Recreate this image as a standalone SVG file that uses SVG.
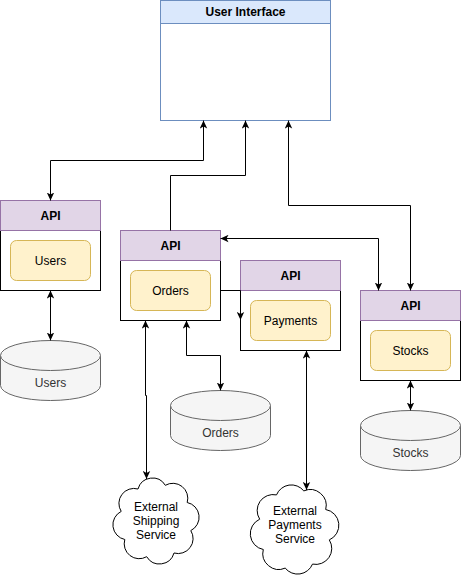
<svg xmlns="http://www.w3.org/2000/svg" width="461" height="581" viewBox="0 0 461 581">
<style>
text{font-family:"Liberation Sans",Arial,sans-serif;font-size:12px;text-anchor:middle;fill:#000}
.b{font-weight:bold}
.api{fill:#e1d5e7;stroke:#9673a6;stroke-width:1}
.body{fill:#fff;stroke:#000;stroke-width:1}
.inner{fill:#fff2cc;stroke:#d6b656;stroke-width:1}
.db{fill:#f5f5f5;stroke:#666;stroke-width:1}
.dbt{fill:#333}
.cloud{fill:#fff;stroke:#000;stroke-width:1}
.e{fill:none;stroke:#000;stroke-width:1}
</style>
<defs>
<marker id="a" viewBox="0 0 8 8" refX="8" refY="4" markerWidth="8" markerHeight="8" markerUnits="userSpaceOnUse" orient="auto-start-reverse">
<path d="M0,0.3 L8,4 L0,7.7 L2,4 Z" fill="#000"/>
</marker>
</defs>

<g id="ui">
<rect x="160.5" y="23.5" width="170" height="97" fill="#fff" stroke="#6c8ebf"/>
<rect x="160.5" y="0.5" width="170" height="23" fill="#dae8fc" stroke="#6c8ebf"/>
<text class="b" x="245.5" y="16">User Interface</text>
</g>

<g id="users-api">
<rect class="body" x="0.5" y="230.5" width="100" height="60"/>
<rect class="api" x="0.5" y="200.5" width="100" height="30"/>
<text class="b" x="50.5" y="219.5">API</text>
<rect class="inner" x="10.5" y="240.5" width="80" height="40" rx="6"/>
<text x="50.5" y="264.5">Users</text>
</g>

<g id="orders-api">
<rect class="body" x="120.5" y="260.5" width="100" height="60"/>
<rect class="api" x="120.5" y="230.5" width="100" height="30"/>
<text class="b" x="170.5" y="249.5">API</text>
<rect class="inner" x="130.5" y="270.5" width="80" height="40" rx="6"/>
<text x="170.5" y="294.5">Orders</text>
</g>

<g id="payments-api">
<rect class="body" x="240.5" y="290.5" width="100" height="60"/>
<rect class="api" x="240.5" y="260.5" width="100" height="30"/>
<text class="b" x="290.5" y="279.5">API</text>
<rect class="inner" x="250.5" y="300.5" width="80" height="40" rx="6"/>
<text x="290.5" y="324.5">Payments</text>
</g>

<g id="stocks-api">
<rect class="body" x="360.5" y="320.5" width="100" height="60"/>
<rect class="api" x="360.5" y="290.5" width="100" height="30"/>
<text class="b" x="410.5" y="309.5">API</text>
<rect class="inner" x="370.5" y="330.5" width="80" height="40" rx="6"/>
<text x="410.5" y="354.5">Stocks</text>
</g>

<g id="users-db">
<path class="db" d="M0.5,355.5 A50,15 0 0 1 100.5,355.5 V385.5 A50,15 0 0 1 0.5,385.5 Z"/>
<path class="db" fill="none" d="M0.5,355.5 A50,15 0 0 0 100.5,355.5"/>
<text class="dbt" x="50.5" y="387">Users</text>
</g>

<g id="orders-db">
<path class="db" d="M170.5,405.5 A50,15 0 0 1 270.5,405.5 V435.5 A50,15 0 0 1 170.5,435.5 Z"/>
<path class="db" fill="none" d="M170.5,405.5 A50,15 0 0 0 270.5,405.5"/>
<text class="dbt" x="220.5" y="437">Orders</text>
</g>

<g id="stocks-db">
<path class="db" d="M360.5,425.5 A50,15 0 0 1 460.5,425.5 V455.5 A50,15 0 0 1 360.5,455.5 Z"/>
<path class="db" fill="none" d="M360.5,425.5 A50,15 0 0 0 460.5,425.5"/>
<text class="dbt" x="410.5" y="457">Stocks</text>
</g>

<g id="shipping-cloud">
<path class="cloud" d="M165.3,485.3 A15,15 0 0 1 187.2,502.5 A15,15 0 0 1 190.8,530.6 A15,15 0 0 1 174,553 A15,15 0 0 1 146.7,556.7 A15,15 0 0 1 124.8,539.5 A15,15 0 0 1 121.2,511.4 A15,15 0 0 1 138,489 A15,15 0 0 1 165.3,485.3 Z"/>
<text x="156" y="511">External</text>
<text x="156" y="525">Shipping</text>
<text x="156" y="539">Service</text>
</g>

<g id="payments-cloud">
<path class="cloud" d="M303.8,490.9 A16,16 0 0 1 325.7,509.5 A16,16 0 0 1 329.3,539.9 A16,16 0 0 1 312.5,564.1 A16,16 0 0 1 285.2,568.1 A16,16 0 0 1 263.3,549.5 A16,16 0 0 1 259.7,519.2 A16,16 0 0 1 276.5,494.9 A16,16 0 0 1 303.8,490.9 Z"/>
<text x="295" y="515">External</text>
<text x="295" y="529">Payments</text>
<text x="295" y="543">Service</text>
</g>

<g id="connectors">
<path class="e" d="M203.5,120.5 V160.5 H50.5 V200.5" marker-start="url(#a)" marker-end="url(#a)"/>
<path class="e" d="M170.5,230.5 V175.5 H245.5 V120.5" marker-end="url(#a)"/>
<path class="e" d="M288.5,120.5 V205.5 H410.5 V290.5" marker-start="url(#a)" marker-end="url(#a)"/>
<path class="e" d="M220.5,238.5 H378.5 V290.5" marker-start="url(#a)" marker-end="url(#a)"/>
<path class="e" d="M220.5,290.5 H240.5 V320" marker-end="url(#a)"/>
<path class="e" d="M145.5,320.5 V395.5 H146.5 V479" marker-start="url(#a)" marker-end="url(#a)"/>
<path class="e" d="M186.5,320.5 V355.5 H220.5 V390.5" marker-start="url(#a)" marker-end="url(#a)"/>
<path class="e" d="M306.5,350.5 V490" marker-start="url(#a)" marker-end="url(#a)"/>
<path class="e" d="M410.5,380.5 V410.5" marker-start="url(#a)" marker-end="url(#a)"/>
<path class="e" d="M50.5,290.5 V340.5" marker-start="url(#a)" marker-end="url(#a)"/>
</g>
</svg>
